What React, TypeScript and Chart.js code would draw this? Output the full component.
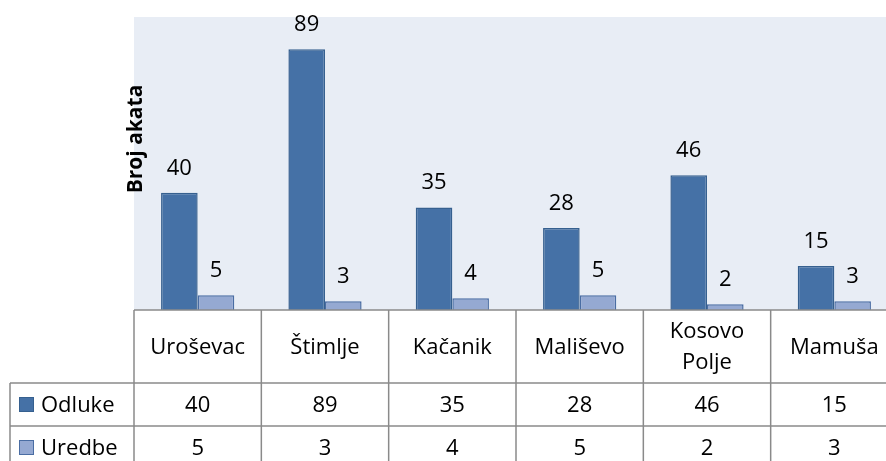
import React, { useEffect, useRef } from 'react';
import { Chart, registerables } from 'chart.js';

Chart.register(...registerables);

const categories: string[][] = [['Uroševac'], ['Štimlje'], ['Kačanik'], ['Mališevo'], ['Kosovo', 'Polje'], ['Mamuša']];
const seriesNames = ['Odluke', 'Uredbe'];
const odluke = [40, 89, 35, 28, 46, 15];
const uredbe = [5, 3, 4, 5, 2, 3];
const yMin = 0;
const yMax = 100;
const yTitle = 'Broj akata';

const FONT = '"Open Sans", "DejaVu Sans", sans-serif';
const fills = ['#4571A6', '#95A9D2'];
const borders = ['#36608F', '#4A6DA3'];
const GRID = '#8A8A8A';

const plotBg = {
  id: 'plotBg',
  beforeDraw(chart: any) {
    const { ctx, chartArea: a } = chart;
    ctx.save();
    ctx.fillStyle = '#E8EDF5';
    ctx.fillRect(a.left, a.top, a.right - a.left, a.bottom - a.top);
    ctx.restore();
  },
};

const dataLabels = {
  id: 'dataLabels',
  afterDatasetsDraw(chart: any) {
    const { ctx } = chart;
    ctx.save();
    ctx.font = `22px ${FONT}`;
    ctx.fillStyle = '#000';
    ctx.textAlign = 'center';
    ctx.textBaseline = 'alphabetic';
    chart.data.datasets.forEach((ds: any, i: number) => {
      const meta = chart.getDatasetMeta(i);
      meta.data.forEach((el: any, j: number) => {
        ctx.fillText(String(ds.data[j]), el.x, el.y - 18);
      });
    });
    ctx.restore();
  },
};

const yTitlePlugin = {
  id: 'yTitlePlugin',
  afterDraw(chart: any) {
    const { ctx, chartArea: a } = chart;
    ctx.save();
    ctx.translate(a.left + 2, a.top + 122);
    ctx.rotate(-Math.PI / 2);
    ctx.font = `bold 21px ${FONT}`;
    ctx.fillStyle = '#000';
    ctx.textAlign = 'center';
    ctx.textBaseline = 'middle';
    ctx.fillText(yTitle, 0, 0);
    ctx.restore();
  },
};

const dataTable = {
  id: 'dataTable',
  afterDraw(chart: any) {
    const { ctx, chartArea: a } = chart;
    const n = categories.length;
    const cw = (a.right - a.left) / n;
    const headTop = a.bottom;
    const headBottom = headTop + 73;
    const r1Bottom = headBottom + 43;
    const r2Bottom = r1Bottom + 43;
    const leftEdge = 10;
    ctx.save();
    ctx.strokeStyle = GRID;
    ctx.lineWidth = 1.5;
    ctx.beginPath();
    ctx.moveTo(a.left, headTop);
    ctx.lineTo(a.right, headTop);
    ctx.moveTo(leftEdge, headBottom);
    ctx.lineTo(a.right, headBottom);
    ctx.moveTo(leftEdge, r1Bottom);
    ctx.lineTo(a.right, r1Bottom);
    ctx.moveTo(leftEdge, headBottom);
    ctx.lineTo(leftEdge, r2Bottom);
    for (let i = 0; i <= n; i++) {
      const x = a.left + i * cw;
      ctx.moveTo(x, headTop);
      ctx.lineTo(x, r2Bottom);
    }
    ctx.stroke();

    ctx.fillStyle = '#000';
    ctx.font = `22px ${FONT}`;
    ctx.textAlign = 'center';
    ctx.textBaseline = 'middle';
    categories.forEach((lines, i) => {
      const cx = a.left + (i + 0.5) * cw;
      const cy = (headTop + headBottom) / 2 + 1;
      const lh = 31;
      lines.forEach((t, k) => {
        ctx.fillText(t, cx, cy + (k - (lines.length - 1) / 2) * lh);
      });
    });
    const rows = [odluke, uredbe];
    const rowMid = [(headBottom + r1Bottom) / 2, (r1Bottom + r2Bottom) / 2];
    rows.forEach((vals, r) => {
      vals.forEach((v, i) => {
        const cx = a.left + (i + 0.5) * cw;
        ctx.fillText(String(v), cx, rowMid[r] + 1);
      });
      ctx.fillStyle = fills[r];
      ctx.fillRect(19, rowMid[r] - 7.5, 15, 15);
      ctx.strokeStyle = borders[r];
      ctx.lineWidth = 1;
      ctx.strokeRect(19.5, rowMid[r] - 7, 14, 14);
      ctx.fillStyle = '#000';
      ctx.textAlign = 'left';
      ctx.fillText(seriesNames[r], 41, rowMid[r] + 1);
      ctx.textAlign = 'center';
    });
    ctx.restore();
  },
};

export default function App() {
  const ref = useRef<HTMLCanvasElement>(null);
  useEffect(() => {
    if (!ref.current) return;
    const chart = new Chart(ref.current, {
      type: 'bar',
      data: {
        labels: categories.map((c) => c.join(' ')),
        datasets: [
          {
            label: seriesNames[0],
            data: odluke,
            backgroundColor: fills[0],
            borderColor: borders[0],
            borderWidth: 1.5,
            categoryPercentage: 0.575,
            barPercentage: 1.0,
          },
          {
            label: seriesNames[1],
            data: uredbe,
            backgroundColor: fills[1],
            borderColor: borders[1],
            borderWidth: 1.5,
            categoryPercentage: 0.575,
            barPercentage: 1.0,
          },
        ],
      },
      options: {
        responsive: false,
        animation: false,
        devicePixelRatio: 1,
        layout: { padding: { left: 134, top: 17, right: 2, bottom: 151 } },
        scales: {
          x: { display: false },
          y: { display: false, min: yMin, max: yMax },
        },
        plugins: {
          legend: { display: false },
          tooltip: { enabled: false },
        },
      },
      plugins: [plotBg, dataLabels, yTitlePlugin, dataTable],
    } as any);
    return () => chart.destroy();
  }, []);
  return (
    <div style={{ position: 'fixed', left: 0, top: 0, width: 886, height: 461, overflow: 'hidden', background: '#fff' }}>
      <canvas ref={ref} width={900} height={461} style={{ display: 'block', width: 900, height: 461 }} />
    </div>
  );
}
